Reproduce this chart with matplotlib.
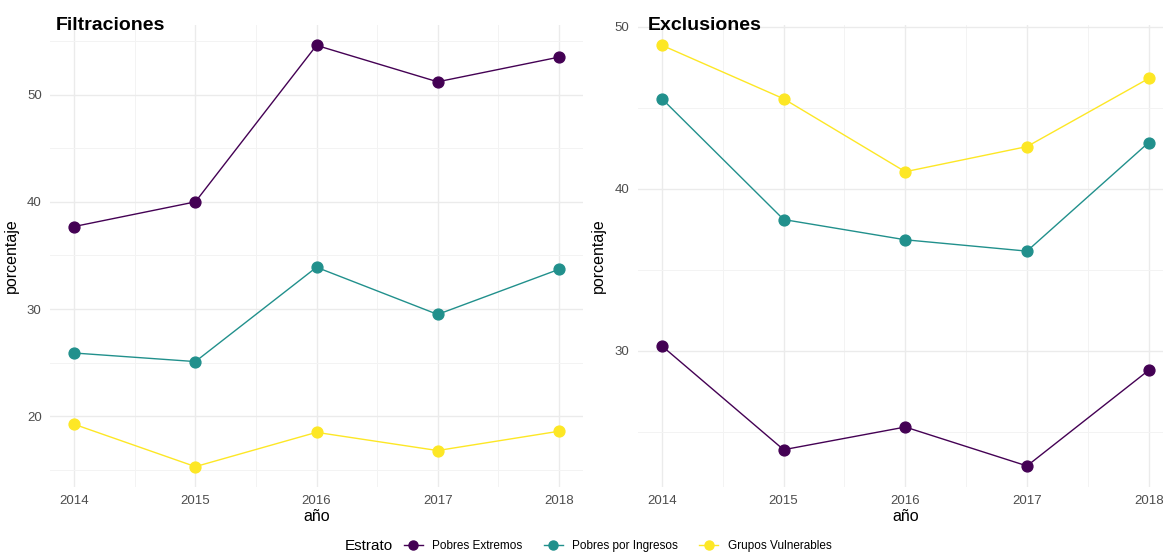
import matplotlib
matplotlib.use("Agg")
import matplotlib.pyplot as plt
from matplotlib.lines import Line2D
from matplotlib.offsetbox import HPacker
from matplotlib.ticker import MultipleLocator

plt.rcParams["font.family"] = ["Liberation Sans", "DejaVu Sans"]

years = [2014, 2015, 2016, 2017, 2018]
estratos = ["Pobres Extremos", "Pobres por Ingresos", "Grupos Vulnerables"]
colores = ["#440154", "#21908C", "#FDE725"]

# porcentajes
filtraciones = {
    "Pobres Extremos":     [37.7, 40.0, 54.6, 51.2, 53.5],
    "Pobres por Ingresos": [25.9, 25.1, 33.9, 29.5, 33.7],
    "Grupos Vulnerables":  [19.25, 15.3, 18.5, 16.8, 18.6],
}
exclusiones = {
    "Pobres Extremos":     [30.3, 23.9, 25.3, 22.9, 28.8],
    "Pobres por Ingresos": [45.55, 38.1, 36.85, 36.15, 42.85],
    "Grupos Vulnerables":  [48.85, 45.55, 41.05, 42.6, 46.8],
}

W, H = 1163, 552
fig = plt.figure(figsize=(W / 100, H / 100), dpi=100)


def panel(x0, x1, data, ylim, title, title_x):
    ax = fig.add_axes([x0 / W, 1 - 487 / H, (x1 - x0) / W, (487 - 25) / H])
    for est, col in zip(estratos, colores):
        ax.plot(years, data[est], color=col, lw=1.0, marker="o", ms=7.8,
                zorder=3, clip_on=False)
    ax.set_xlim(2013.8, 2018.2)
    ax.set_ylim(*ylim)
    ax.xaxis.set_major_locator(MultipleLocator(1))
    ax.xaxis.set_minor_locator(MultipleLocator(0.5))
    ax.yaxis.set_major_locator(MultipleLocator(10))
    ax.yaxis.set_minor_locator(MultipleLocator(5))
    ax.grid(which="major", color="#EBEBEB", lw=1.0)
    ax.grid(which="minor", color="#F3F3F3", lw=0.7)
    ax.set_axisbelow(True)
    for s in ax.spines.values():
        s.set_visible(False)
    ax.tick_params(which="both", length=0, labelsize=9.5, labelcolor="#4D4D4D", pad=6)
    ax.set_xlabel("año", fontsize=11.5, labelpad=1)
    ax.set_ylabel("porcentaje", fontsize=11.5, labelpad=6)
    fig.text(title_x / W, 1 - 25 / H, title, fontsize=14, fontweight="bold",
             va="center", ha="left")
    return ax


panel(50, 583, filtraciones, (13.4, 56.5), "Filtraciones", 56)
panel(637.6, 1173, exclusiones, (21.6, 50.1), "Exclusiones", 648)

handles = [Line2D([0], [0], color=c, lw=1.0, marker="o", ms=6.5) for c in colores]
leg = fig.legend(handles, estratos, title="Estrato", loc="center",
                 bbox_to_anchor=(588 / W, 1 - 546 / H), ncol=3, frameon=False,
                 fontsize=8.5, title_fontsize=11, handlelength=1.6,
                 handletextpad=0.8, columnspacing=1.8, borderpad=0)
# titulo a la izquierda, en la misma linea
box = leg._legend_box
box._children = [HPacker(children=list(box.get_children()), align="center",
                         pad=0, sep=8)]

fig.savefig("out.png", dpi=100)
